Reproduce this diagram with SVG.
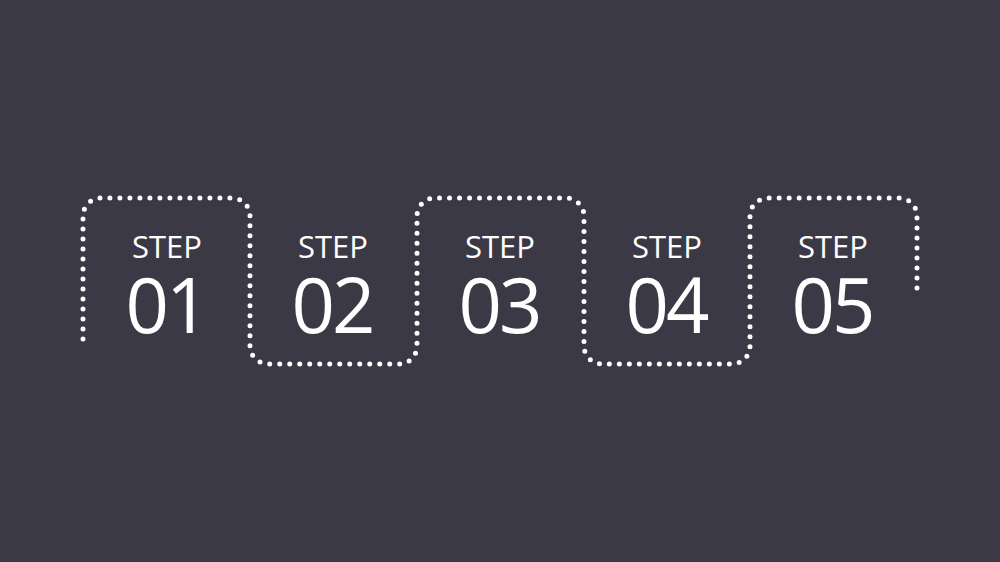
<svg xmlns="http://www.w3.org/2000/svg" width="1000" height="562" viewBox="0 0 1000 562">
<style>
.bg{fill:#3b3945}
.dots{fill:none;stroke:#ffffff;stroke-width:5;stroke-linecap:round;stroke-dasharray:0 10}
.lbl{font-family:"Open Sans","Liberation Sans",sans-serif;fill:#ffffff;text-anchor:middle}
.s{font-size:31px}
.n{font-size:76px;letter-spacing:-3px}
</style>
<rect class="bg" x="0" y="0" width="1000" height="562"/>
<g id="connectors">
<path class="dots" d="M83,339 V216 A18,18 0 0 1 101,198 H232 A18,18 0 0 1 250,216 V346 A18,18 0 0 0 268,364 H399 A18,18 0 0 0 417,346 V216 A18,18 0 0 1 435,198 H566 A18,18 0 0 1 584,216 V346 A18,18 0 0 0 602,364 H732 A18,18 0 0 0 750,346 V216 A18,18 0 0 1 768,198 H899 A18,18 0 0 1 917,216 V293"/>
</g>
<g id="step1"><text class="lbl s" x="167" y="258">STEP</text><text class="lbl n" x="166" y="333">01</text></g>
<g id="step2"><text class="lbl s" x="333" y="258">STEP</text><text class="lbl n" x="332" y="333">02</text></g>
<g id="step3"><text class="lbl s" x="500" y="258">STEP</text><text class="lbl n" x="499" y="333">03</text></g>
<g id="step4"><text class="lbl s" x="667" y="258">STEP</text><text class="lbl n" x="666" y="333">04</text></g>
<g id="step5"><text class="lbl s" x="833" y="258">STEP</text><text class="lbl n" x="832" y="333">05</text></g>
</svg>
